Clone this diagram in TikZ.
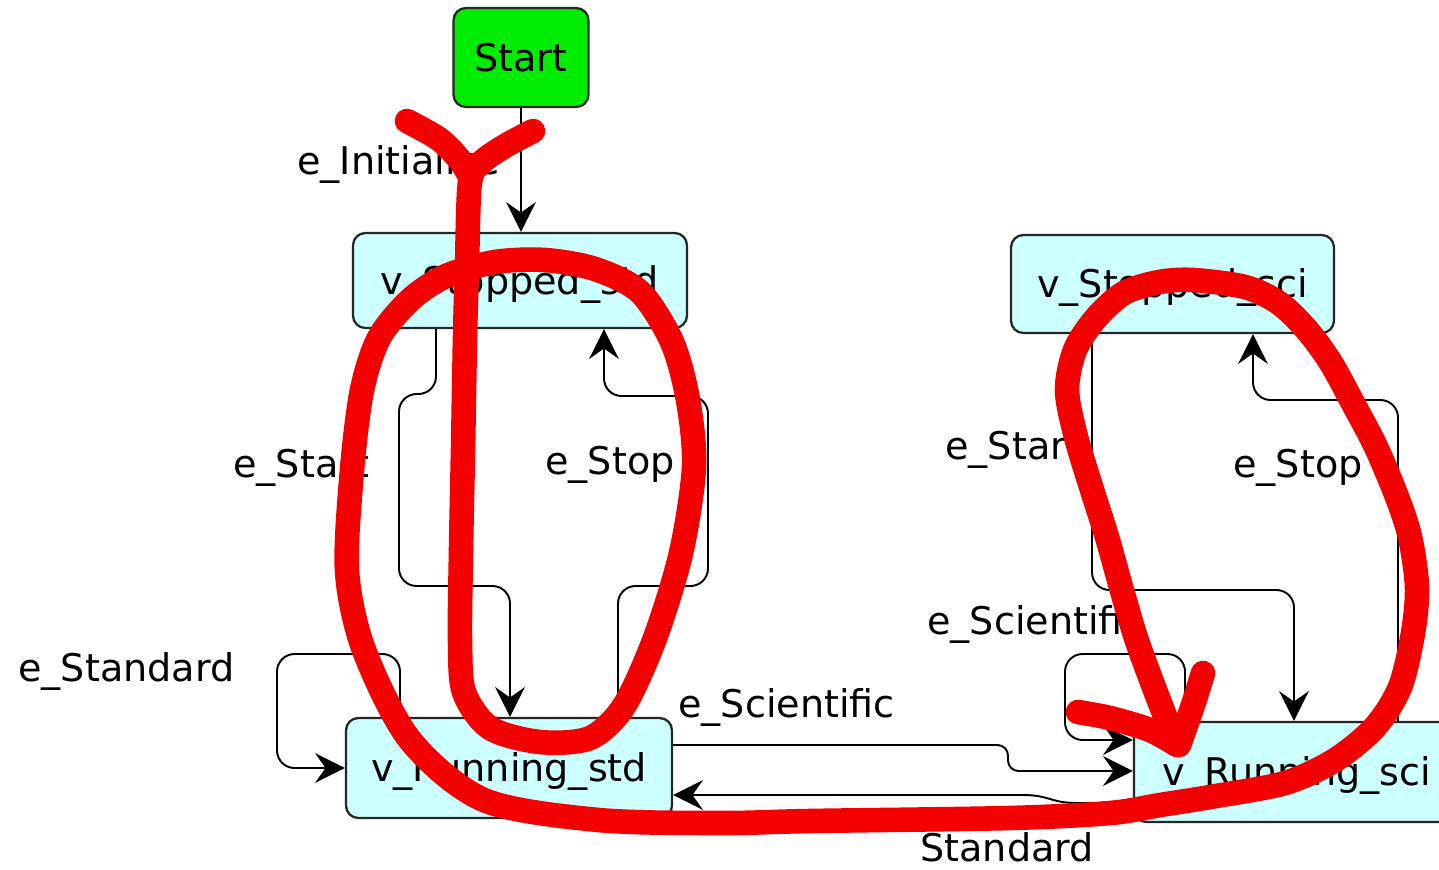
\documentclass[tikz,border=0pt]{standalone}
\usepackage{fontspec}
\setmainfont{DejaVu Sans}
\usetikzlibrary{arrows.meta,calc}
\definecolor{startgreen}{RGB}{0,236,0}
\definecolor{statecyan}{RGB}{204,255,255}
\definecolor{pen}{RGB}{245,0,0}
\begin{document}
\begin{tikzpicture}[x=0.02cm,y=-0.02cm,
  font=\fontsize{21.7pt}{26pt}\selectfont,
  state/.style={draw=black!85, line width=1.3pt, rounded corners=7pt, fill=statecyan,
    inner sep=0pt, text height=15.8pt, text depth=0pt},
  conn/.style={draw=black, line width=1.1pt, rounded corners=10pt,
    -{Stealth[length=17pt,width=17pt,inset=6pt]}},
  lbl/.style={anchor=base west, inner sep=0pt},
  ink/.style={draw=pen, line width=14pt, line cap=round, line join=round}]
\useasboundingbox (0,0) rectangle (1439,869);
\clip (0,0) rectangle (1439,869);

% states
\node[state, fill=startgreen, minimum width=2.70cm, minimum height=1.98cm] (start) at (521,57.5) {Start};
\node[state, minimum width=6.68cm, minimum height=1.90cm] (sstd) at (520,280.5) {v\_Stopped\_std};
\node[state, minimum width=6.46cm, minimum height=1.96cm] (ssci) at (1172.5,284) {v\_Stopped\_sci};
\node[state, minimum width=6.52cm, minimum height=2.00cm] (rstd) at (509,768) {v\_Running\_std};
\node[state, minimum width=6.52cm, minimum height=2.00cm] (rsci) at (1297,772) {v\_Running\_sci};

% transitions
\draw[conn] (start.south) -- (start.south |- sstd.north);
\draw[conn] (436,0 |- sstd.south) -- (436,394) -- (399,394) -- (399,586) -- (510,586) -- (510,0 |- rstd.north);
\draw[conn] (618,0 |- rstd.north) -- (618,586) -- (708,586) -- (708,396) -- (604,396) -- (604,0 |- sstd.south);
\draw[conn] (400,0 |- rstd.north) -- (400,654) -- (277,654) -- (277,0 |- rstd.west) -- (rstd.west);
\draw[conn, rounded corners=6pt] (rstd.east |- 0,745) -- (1008,745) -- (1008,771) -- (rsci.west |- 0,771);
\draw[conn] (rsci.west |- 0,803) -- (1095,803) .. controls (1050,803) and (1050,795) .. (1005,795) -- (rstd.east |- 0,795);
\draw[conn] (1185,0 |- rsci.north) -- (1185,654) -- (1065,654) -- (1065,740) -- (rsci.west |- 0,740);
\draw[conn] (1092,0 |- ssci.south) -- (1092,590) -- (1294,590) -- (1294,0 |- rsci.north);
\draw[conn] (1398,0 |- rsci.north) -- (1398,400) -- (1253,400) -- (1253,0 |- ssci.south);

% transition labels
\node[lbl] (l1) at (297,174) {e\_Initialize};
\node[lbl] (l2) at (233,477) {e\_Start};
\node[lbl] (l3) at (545,474) {e\_Stop};
\node[lbl] (l4) at (18,681) {e\_Standard};
\node[lbl] (l5) at (678,717) {e\_Scientific};
\node[lbl] (l6) at (920,861) {Standard};
\node[lbl] (l7) at (945,459) {e\_Start};
\node[lbl] (l8) at (1233,477) {e\_Stop};
\node[lbl] (l9) at (927,634) {e\_Scientific};

% red pen strokes
\draw[ink] plot[smooth] coordinates {(407,121) (439,139) (459,159) (470,176)};
\draw[ink] plot[smooth] coordinates {(533,131) (505,146) (482,162) (470,182) (467,265) (465,338)
  (463,450) (461,550) (460,640) (464,692) (490,728) (540,742) (590,738) (624,706) (655,638)
  (681,553) (694,467) (688,400) (672,342) (640,292) (595,269) (545,260) (495,262) (446,276)
  (410,300) (379,338) (362,390) (352,470) (347,571) (364,650) (410,740) (484,800) (599,820)
  (722,823) (810,821) (1010,818) (1110,813) (1160,805) (1210,797) (1285,783) (1335,760)
  (1375,727) (1400,687) (1413,633) (1417,587) (1410,537) (1397,497) (1376,447) (1355,407)
  (1331,363) (1307,330) (1279,303) (1245,287) (1193,280) (1159,282) (1124,293) (1096,318)
  (1075,350) (1067,390) (1076,437) (1093,493) (1107,537) (1121,587) (1136,638) (1155,690)
  (1176,744)};
\draw[ink] plot[smooth] coordinates {(1078,712) (1110,718) (1150,730) (1177,745)};
\draw[ink] plot[smooth] coordinates {(1203,673) (1193,705) (1179,745)};
\end{tikzpicture}
\end{document}
